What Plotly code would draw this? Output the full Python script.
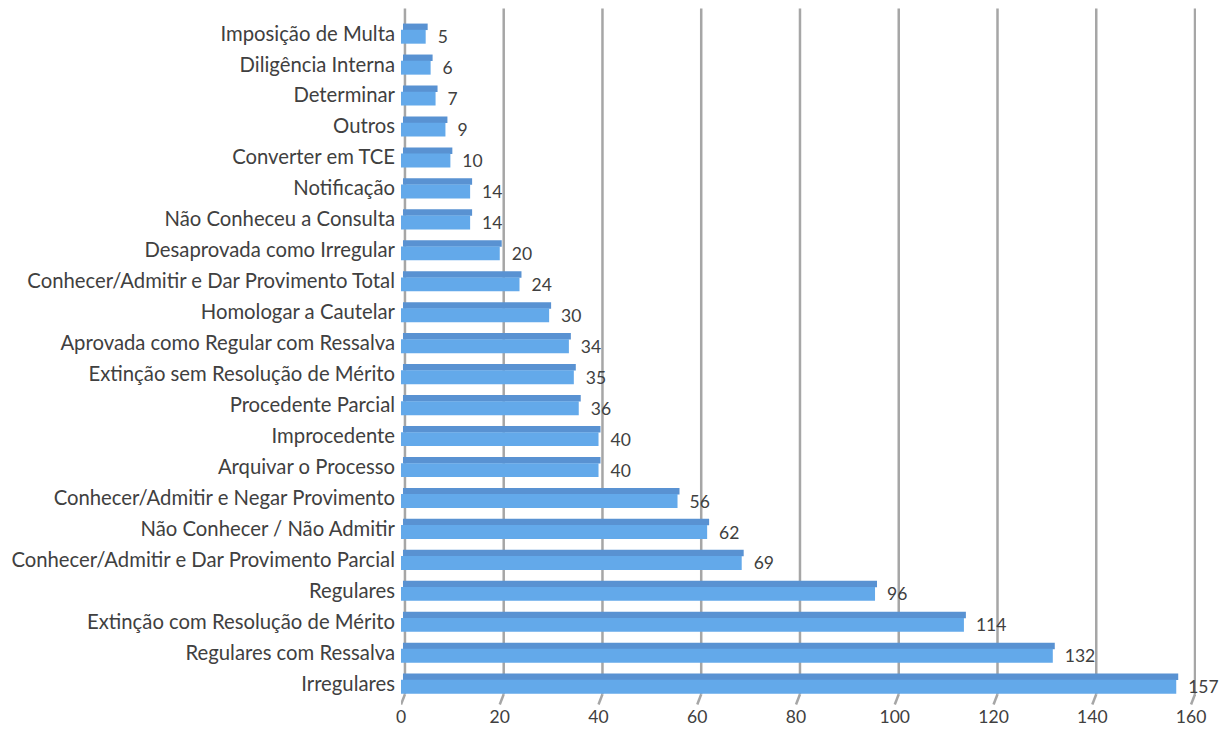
import plotly.graph_objects as go

categories = [
    "Irregulares", "Regulares com Ressalva", "Extinção com Resolução de Mérito",
    "Regulares", "Conhecer/Admitir e Dar Provimento Parcial", "Não Conhecer / Não Admitir",
    "Conhecer/Admitir e Negar Provimento", "Arquivar o Processo", "Improcedente",
    "Procedente Parcial", "Extinção sem Resolução de Mérito",
    "Aprovada como Regular com Ressalva", "Homologar a Cautelar",
    "Conhecer/Admitir e Dar Provimento Total", "Desaprovada como Irregular",
    "Não Conheceu a Consulta", "Notificação", "Converter em TCE", "Outros",
    "Determinar", "Diligência Interna", "Imposição de Multa",
]
values = [157, 132, 114, 96, 69, 62, 56, 40, 40, 36, 35, 34, 30, 24, 20, 14, 14, 10, 9, 7, 6, 5]
x_ticks = [0, 20, 40, 60, 80, 100, 120, 140, 160]

font = "Lato, 'Open Sans', sans-serif"
depth = 0.4  # 3D depth shift in value units

fig = go.Figure()
# top (darker) face of the 3D bar
fig.add_trace(go.Bar(
    y=categories, x=values, base=depth, orientation="h",
    width=0.21, offset=0.11,
    marker=dict(color="#5992d2", line=dict(width=0)),
    hoverinfo="skip",
))
# front face
fig.add_trace(go.Bar(
    y=categories, x=values, orientation="h",
    width=0.45, offset=-0.33,
    marker=dict(color="#63a9ea", line=dict(width=0)),
    text=[f"  {v}" for v in values], textposition="outside",
    constraintext="none",
    textfont=dict(size=17.5, color="#404040", family=font),
    cliponaxis=False, hoverinfo="x+y",
))

shapes = []
for v in x_ticks:
    shapes.append(dict(type="line", xref="x", yref="paper",
                       x0=v + 0.8, x1=v + 0.8, y0=0.007, y1=1.014,
                       line=dict(color="#a6a6a6", width=2.5), layer="below"))
    shapes.append(dict(type="line", xref="x", yref="paper",
                       x0=v + 0.8, x1=v, y0=0.007, y1=-0.008,
                       line=dict(color="#a6a6a6", width=2.5), layer="below"))

fig.update_layout(
    width=1221, height=722,
    barmode="overlay",
    showlegend=False,
    paper_bgcolor="white", plot_bgcolor="white",
    margin=dict(l=393, r=33, t=10, b=31),
    font=dict(family=font, size=20, color="#404040"),
    shapes=shapes,
    xaxis=dict(range=[0, 161], tickvals=x_ticks, showgrid=False,
               zeroline=False, showline=False, automargin=False,
               tickfont=dict(size=17.5, color="#404040"),
               ticks="", ticklabelstandoff=5, fixedrange=True),
    yaxis=dict(type="category", categoryorder="array", categoryarray=categories,
               range=[-0.5, len(categories) - 0.5], showgrid=False,
               showline=False, ticks="", ticklabelstandoff=5, automargin=False,
               tickfont=dict(size=20.3, color="#404040")),
)
fig.write_html("out.html", config={"displayModeBar": False})
